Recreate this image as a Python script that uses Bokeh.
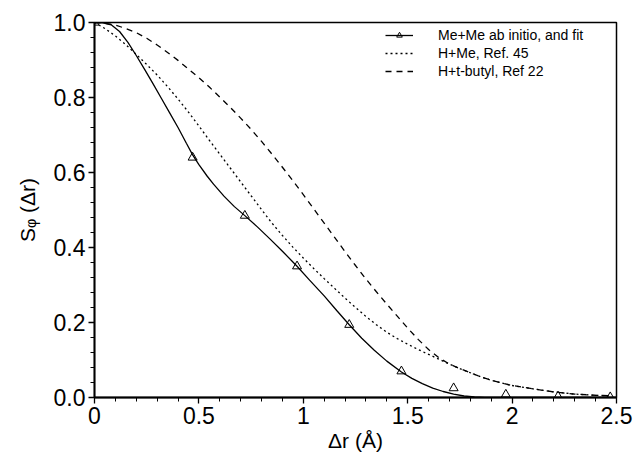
from bokeh.plotting import figure
from bokeh.models import Range1d, FixedTicker, Legend, LegendItem
from bokeh.embed import file_html
from bokeh.resources import INLINE

# Me+Me ab initio points
pts_x = [0.0, 0.47, 0.72, 0.97, 1.22, 1.47, 1.72, 1.97, 2.22, 2.47]
pts_y = [1.0, 0.64, 0.485, 0.35, 0.194, 0.07, 0.025, 0.008, 0.003, 0.001]

# Me+Me fit
fit_x = [0.0, 0.04, 0.08, 0.12, 0.16, 0.20, 0.24, 0.28, 0.32, 0.36, 0.40, 0.44, 0.47,
         0.50, 0.54, 0.57, 0.62, 0.67, 0.72, 0.78, 0.84, 0.90, 0.97, 1.03, 1.10, 1.16, 1.22,
         1.28, 1.34, 1.40, 1.47, 1.52, 1.57, 1.62, 1.67, 1.72, 1.77, 1.82, 1.87, 2.5]
fit_y = [1.0, 0.999, 0.994, 0.976, 0.947, 0.912, 0.875, 0.837, 0.798, 0.759, 0.720, 0.678, 0.647,
         0.621, 0.590, 0.569, 0.537, 0.509, 0.485, 0.455, 0.423, 0.39, 0.35, 0.313, 0.271, 0.232,
         0.194, 0.158, 0.126, 0.097, 0.068, 0.051, 0.037, 0.025, 0.016, 0.009, 0.004, 0.0015,
         0.0, 0.0]

# H+Me, Ref. 45
hme_x = [0.0, 0.05, 0.10, 0.15, 0.20, 0.25, 0.30, 0.35, 0.40, 0.45, 0.50, 0.55, 0.60,
         0.65, 0.70, 0.75, 0.80, 0.85, 0.90, 0.95, 1.00, 1.05, 1.10, 1.15, 1.20, 1.25,
         1.30, 1.35, 1.40, 1.45, 1.50, 1.55, 1.60, 1.65, 1.70, 1.75, 1.80, 1.85, 1.90,
         1.95, 2.0, 2.1, 2.2, 2.3, 2.4, 2.47]
hme_y = [1.0, 0.984, 0.964, 0.941, 0.915, 0.888, 0.860, 0.829, 0.796, 0.761, 0.724, 0.686, 0.649,
         0.612, 0.575, 0.538, 0.501, 0.465, 0.432, 0.401, 0.372, 0.344, 0.317, 0.291, 0.265, 0.240,
         0.216, 0.194, 0.174, 0.157, 0.142, 0.128, 0.115, 0.102, 0.089, 0.077, 0.066, 0.055, 0.046,
         0.039, 0.032, 0.023, 0.015, 0.009, 0.006, 0.0045]

# H+t-butyl, Ref 22
htb_x = [0.0, 0.05, 0.10, 0.15, 0.20, 0.25, 0.30, 0.35, 0.40, 0.45, 0.50, 0.55, 0.60,
         0.65, 0.70, 0.75, 0.80, 0.85, 0.90, 0.95, 1.00, 1.05, 1.10, 1.15, 1.20, 1.25,
         1.30, 1.35, 1.40, 1.45, 1.50, 1.55, 1.60, 1.65, 1.70, 1.75, 1.80, 1.85, 1.90,
         1.95, 2.0, 2.1, 2.2, 2.3, 2.4, 2.47]
htb_y = [1.0, 0.998, 0.993, 0.984, 0.973, 0.958, 0.940, 0.920, 0.899, 0.876, 0.853, 0.828, 0.801,
         0.774, 0.745, 0.715, 0.683, 0.649, 0.614, 0.578, 0.541, 0.503, 0.465, 0.427, 0.389, 0.352,
         0.316, 0.282, 0.249, 0.217, 0.185, 0.155, 0.128, 0.106, 0.089, 0.077, 0.066, 0.055, 0.046,
         0.039, 0.032, 0.023, 0.015, 0.009, 0.006, 0.0045]

x_ticks = [0, 0.5, 1, 1.5, 2, 2.5]
x_tick_labels = ["0", "0.5", "1", "1.5", "2", "2.5"]
y_ticks = [0.0, 0.2, 0.4, 0.6, 0.8, 1.0]
y_tick_labels = ["0.0", "0.2", "0.4", "0.6", "0.8", "1.0"]

FONT = "Liberation Sans"

p = figure(frame_width=522, frame_height=375, output_backend="svg", toolbar_location=None,
           x_range=Range1d(0, 2.5), y_range=Range1d(0, 1.0),
           min_border_left=94, min_border_right=20, min_border_top=22, min_border_bottom=56)
p.background_fill_color = "white"
p.border_fill_color = "white"
p.grid.visible = False
p.outline_line_color = "black"
p.outline_line_width = 1.5

p.xaxis.ticker = FixedTicker(ticks=x_ticks,
                             minor_ticks=[i * 0.1 for i in range(0, 26)])
p.yaxis.ticker = FixedTicker(ticks=y_ticks,
                             minor_ticks=[i * 0.04 for i in range(0, 26)])
p.xaxis.major_label_overrides = {t: l for t, l in zip(x_ticks, x_tick_labels)}
p.yaxis.major_label_overrides = {t: l for t, l in zip(y_ticks, y_tick_labels)}

for ax in (p.xaxis, p.yaxis):
    ax.axis_line_color = "black"
    ax.axis_line_width = 1.8
    ax.major_tick_line_color = "black"
    ax.minor_tick_line_color = "black"
    ax.major_tick_line_width = 1.3
    ax.major_tick_in = 0
    ax.major_tick_out = 6
    ax.minor_tick_in = 0
    ax.minor_tick_out = 4
    ax.major_label_text_font = FONT
    ax.major_label_text_font_size = "23px"
    ax.major_label_text_color = "black"
    ax.axis_label_text_font = FONT
    ax.axis_label_text_font_size = "21px"
    ax.axis_label_text_font_style = "normal"
    ax.axis_label_text_color = "black"

p.xaxis.axis_label = "Δr (Å)"
p.yaxis.axis_label = "Sᵩ (Δr)"
p.xaxis.major_label_standoff = 3
p.yaxis.major_label_standoff = 3
p.xaxis.axis_label_standoff = 2
p.yaxis.axis_label_standoff = 12

r_fit = p.line(fit_x, fit_y, line_color="black", line_width=1.3)
r_pts = p.scatter(pts_x, pts_y, marker="triangle", size=9, line_color="black",
                  fill_color=None, line_width=1)
r_hme = p.line(hme_x, hme_y, line_color="black", line_width=1.3, line_dash="2 3")
r_htb = p.line(htb_x, htb_y, line_color="black", line_width=1.3, line_dash="6 5")

legend = Legend(items=[
    LegendItem(label="Me+Me ab initio, and fit", renderers=[r_fit, r_pts]),
    LegendItem(label="H+Me, Ref. 45", renderers=[r_hme]),
    LegendItem(label="H+t-butyl, Ref 22", renderers=[r_htb]),
], location=(291, 318))
legend.margin = 0
legend.padding = 0
legend.spacing = 2
legend.glyph_width = 28
legend.glyph_height = 14
legend.label_height = 14
legend.label_standoff = 25
legend.label_text_font = FONT
legend.label_text_font_size = "14px"
legend.label_text_color = "black"
legend.background_fill_alpha = 0
legend.border_line_color = None
p.add_layout(legend)

open("out.html", "w").write(file_html(p, INLINE))
